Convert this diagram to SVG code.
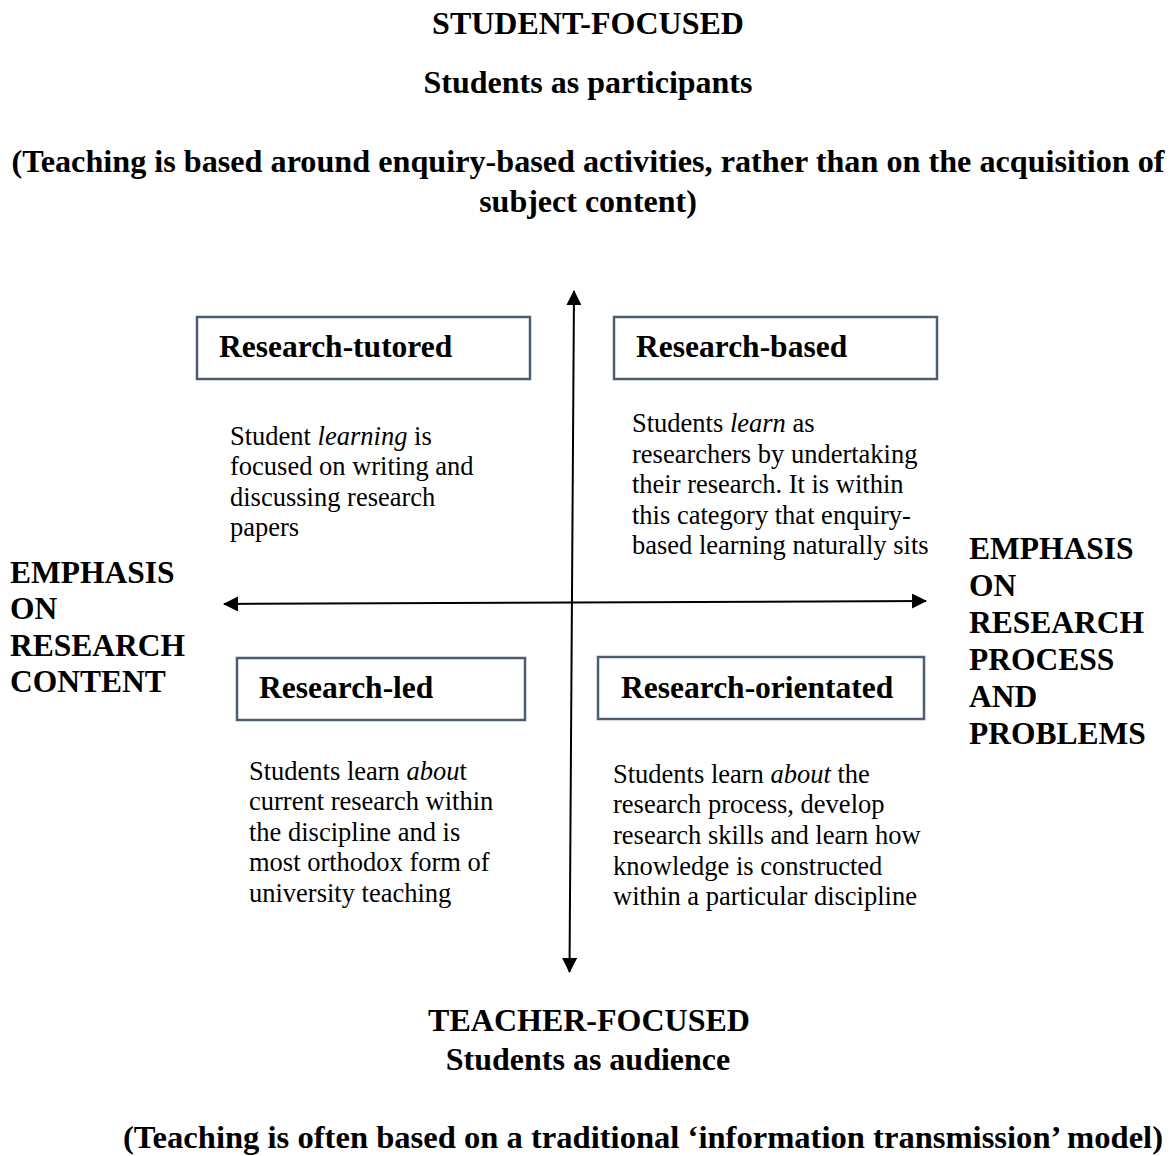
<svg xmlns="http://www.w3.org/2000/svg" width="1176" height="1156" viewBox="0 0 1176 1156">
<style>
.t{font-family:"Liberation Serif","Times New Roman",serif;fill:#000}
.h{font-size:32px;font-weight:bold}
.lab{font-size:31.5px;font-weight:bold}
.side{font-size:31.5px;font-weight:bold}
.body{font-size:26.5px}
.box{fill:#fff;stroke:#4f5b73;stroke-width:2.5}
.ax{stroke:#000;stroke-width:2;fill:none}
</style>
<defs>
<marker id="ah" markerUnits="userSpaceOnUse" markerWidth="15" markerHeight="15" refX="14" refY="7.5" orient="auto-start-reverse" viewBox="0 0 15 15">
<path d="M0,0 L15,7.5 L0,15 z" fill="#000"/>
</marker>
</defs>
<rect width="1176" height="1156" fill="#fff"/>

<g id="top-heading" class="t">
<text class="h" x="588" y="34" text-anchor="middle">STUDENT-FOCUSED</text>
<text class="h" x="588" y="93" text-anchor="middle">Students as participants</text>
<text class="h" x="588" y="172" text-anchor="middle" textLength="1153" lengthAdjust="spacingAndGlyphs">(Teaching is based around enquiry-based activities, rather than on the acquisition of</text>
<text class="h" x="588" y="212" text-anchor="middle">subject content)</text>
</g>

<g id="connectors">
<line class="ax" x1="569.5" y1="972" x2="574" y2="291" marker-start="url(#ah)" marker-end="url(#ah)"/>
<line class="ax" x1="224" y1="604" x2="926" y2="601" marker-start="url(#ah)" marker-end="url(#ah)"/>
</g>

<g id="research-tutored">
<rect class="box" x="197" y="317" width="333" height="62"/>
<text class="t lab" x="219" y="357">Research-tutored</text>
</g>
<g id="research-based">
<rect class="box" x="614" y="317" width="323" height="62"/>
<text class="t lab" x="636" y="357">Research-based</text>
</g>
<g id="research-led">
<rect class="box" x="237" y="658" width="288" height="62"/>
<text class="t lab" x="259" y="698">Research-led</text>
</g>
<g id="research-orientated">
<rect class="box" x="598" y="657" width="326" height="62"/>
<text class="t lab" x="621" y="698">Research-orientated</text>
</g>

<g id="desc-tutored" class="t body">
<text x="230" y="445">Student <tspan font-style="italic">learning</tspan> is</text>
<text x="230" y="475">focused on writing and</text>
<text x="230" y="506">discussing research</text>
<text x="230" y="536">papers</text>
</g>
<g id="desc-based" class="t body">
<text x="632" y="432">Students <tspan font-style="italic">learn</tspan> as</text>
<text x="632" y="463">researchers by undertaking</text>
<text x="632" y="493">their research. It is within</text>
<text x="632" y="524">this category that enquiry-</text>
<text x="632" y="554">based learning naturally sits</text>
</g>
<g id="desc-led" class="t body">
<text x="249" y="780">Students learn <tspan font-style="italic">abou</tspan>t</text>
<text x="249" y="810">current research within</text>
<text x="249" y="841">the discipline and is</text>
<text x="249" y="871">most orthodox form of</text>
<text x="249" y="902">university teaching</text>
</g>
<g id="desc-orientated" class="t body">
<text x="613" y="783">Students learn <tspan font-style="italic">about</tspan> the</text>
<text x="613" y="813">research process, develop</text>
<text x="613" y="844">research skills and learn how</text>
<text x="613" y="875">knowledge is constructed</text>
<text x="613" y="905">within a particular discipline</text>
</g>

<g id="left-label" class="t side">
<text x="10" y="583">EMPHASIS</text>
<text x="10" y="619">ON</text>
<text x="10" y="656">RESEARCH</text>
<text x="10" y="692">CONTENT</text>
</g>
<g id="right-label" class="t side">
<text x="969" y="559">EMPHASIS</text>
<text x="969" y="596">ON</text>
<text x="969" y="633">RESEARCH</text>
<text x="969" y="670">PROCESS</text>
<text x="969" y="707">AND</text>
<text x="969" y="744">PROBLEMS</text>
</g>

<g id="bottom-heading" class="t">
<text class="h" x="589" y="1031" text-anchor="middle">TEACHER-FOCUSED</text>
<text class="h" x="588" y="1070" text-anchor="middle">Students as audience</text>
<text class="h" x="643" y="1148" text-anchor="middle" textLength="1040" lengthAdjust="spacingAndGlyphs">(Teaching is often based on a traditional ‘information transmission’ model)</text>
</g>
</svg>
